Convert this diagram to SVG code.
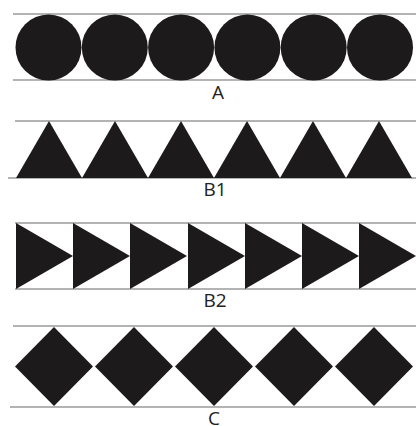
<svg xmlns="http://www.w3.org/2000/svg" width="416" height="426" viewBox="0 0 416 426">
<style>
.ln{stroke:#9a9a9a;stroke-width:1.5;fill:none}
.sh{fill:#1c1a1a}
.lb{font-family:"Open Sans","Liberation Sans",sans-serif;font-size:19px;fill:#222;text-anchor:middle}
</style>
<rect width="416" height="426" fill="#fff"/>
<g id="rowA">
<line class="ln" x1="13" y1="14" x2="416" y2="14"/>
<line class="ln" x1="13" y1="80" x2="416" y2="80"/>
<circle class="sh" cx="48.5" cy="47.5" r="33"/>
<circle class="sh" cx="114.8" cy="47.5" r="33"/>
<circle class="sh" cx="181.1" cy="47.5" r="33"/>
<circle class="sh" cx="247.4" cy="47.5" r="33"/>
<circle class="sh" cx="313.7" cy="47.5" r="33"/>
<circle class="sh" cx="380" cy="47.5" r="33"/>
<text class="lb" x="218" y="99">A</text>
</g>
<g id="rowB1">
<line class="ln" x1="15" y1="121" x2="416" y2="121"/>
<line class="ln" x1="8" y1="178" x2="416" y2="178"/>
<polygon class="sh" points="49,121 82,178 16,178"/>
<polygon class="sh" points="115,121 148,178 82,178"/>
<polygon class="sh" points="181,121 214,178 148,178"/>
<polygon class="sh" points="247,121 280,178 214,178"/>
<polygon class="sh" points="313,121 346,178 280,178"/>
<polygon class="sh" points="379,121 412,178 346,178"/>
<text class="lb" x="215" y="196">B1</text>
</g>
<g id="rowB2">
<line class="ln" x1="15" y1="223" x2="416" y2="223"/>
<line class="ln" x1="15" y1="289" x2="416" y2="289"/>
<polygon class="sh" points="16,223 73,256 16,289"/>
<polygon class="sh" points="73,223 130,256 73,289"/>
<polygon class="sh" points="130,223 187,256 130,289"/>
<polygon class="sh" points="188,223 245,256 188,289"/>
<polygon class="sh" points="245,223 302,256 245,289"/>
<polygon class="sh" points="302,223 359,256 302,289"/>
<polygon class="sh" points="359,223 416,256 359,289"/>
<text class="lb" x="215" y="307">B2</text>
</g>
<g id="rowC">
<line class="ln" x1="13" y1="326" x2="416" y2="326"/>
<line class="ln" x1="10" y1="407" x2="416" y2="407"/>
<polygon class="sh" points="54,327 93,366.5 54,406 15,366.5"/>
<polygon class="sh" points="134,327 173,366.5 134,406 95,366.5"/>
<polygon class="sh" points="214,327 253,366.5 214,406 175,366.5"/>
<polygon class="sh" points="294,327 333,366.5 294,406 255,366.5"/>
<polygon class="sh" points="374,327 413,366.5 374,406 335,366.5"/>
<text class="lb" x="214" y="425">C</text>
</g>
</svg>
